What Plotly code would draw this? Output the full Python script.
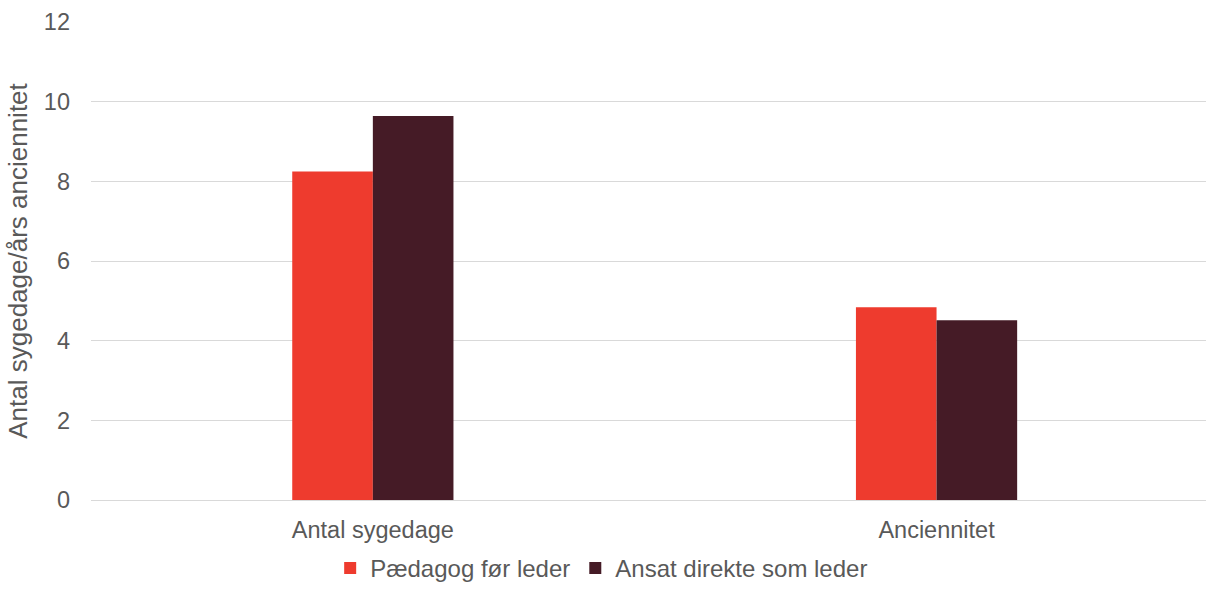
import plotly.graph_objects as go

categories = ["Antal sygedage", "Anciennitet"]
series_names = ["Pædagog før leder", "Ansat direkte som leder"]
paedagog = [8.25, 4.84]
direkte = [9.64, 4.51]
colors = ["#EE3B2E", "#451B26"]
y_ticks = [0, 2, 4, 6, 8, 10, 12]

FONT = "Liberation Sans, Arial, sans-serif"
GREY = "#595959"

fig = go.Figure()
for name, vals, col in zip(series_names, [paedagog, direkte], colors):
    fig.add_trace(go.Bar(x=categories, y=vals, name=name, marker_color=col,
                         marker_line_width=0))

fig.update_layout(
    width=1206, height=591,
    margin=dict(l=91, r=0, t=22, b=91, autoexpand=False),
    paper_bgcolor="white", plot_bgcolor="white",
    barmode="group", bargap=0.714, bargroupgap=0,
    font=dict(family=FONT, size=23.5, color=GREY),
    legend=dict(orientation="h", x=0.458, xanchor="center",
                yref="container", y=-0.01, yanchor="bottom",
                font=dict(size=24, color=GREY), itemwidth=30, traceorder="normal"),
    xaxis=dict(range=[-0.5, 1.478], showgrid=False, showline=False, zeroline=False,
               ticks="", ticklabelstandoff=13),
    yaxis=dict(range=[0, 12], tickvals=y_ticks, showgrid=True, gridcolor="#D9D9D9",
               gridwidth=1.3, zeroline=True, zerolinecolor="#D9D9D9", zerolinewidth=1.3,
               showline=False, ticks="", ticklabelstandoff=20,
               title=dict(text="Antal sygedage/års anciennitet", standoff=8,
                          font=dict(size=26, color=GREY))),
)

fig.write_html("out.html")
